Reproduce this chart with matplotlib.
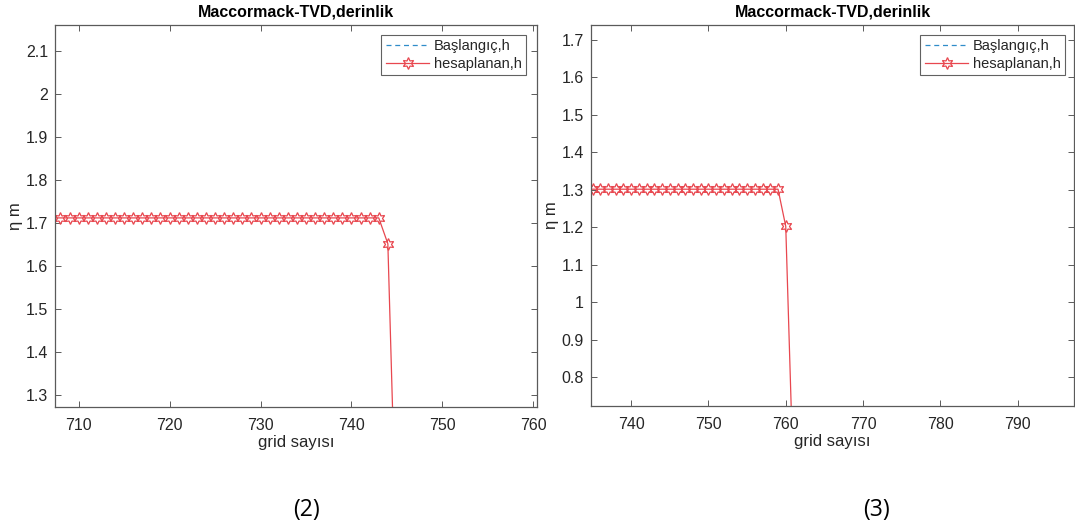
import matplotlib
matplotlib.use("Agg")
import matplotlib.pyplot as plt
import numpy as np

# ---- data ----
x2 = list(range(707, 746))
h2 = [1.712] * 37 + [1.652, 0.91]
x3 = list(range(734, 762))
h3 = [1.302] * 26 + [1.203, 0.52]

title = "Maccormack-TVD,derinlik"
xlabel = "grid sayısı"
ylabel = "η m"
leg_labels = ["Başlangıç,h", "hesaplanan,h"]
panel_labels = ["(2)", "(3)"]

xticks2 = [710, 720, 730, 740, 750, 760]
yticks2 = [1.3, 1.4, 1.5, 1.6, 1.7, 1.8, 1.9, 2.0, 2.1]
ytick_labels2 = ["1.3", "1.4", "1.5", "1.6", "1.7", "1.8", "1.9", "2", "2.1"]
xticks3 = [740, 750, 760, 770, 780, 790]
yticks3 = [0.8, 0.9, 1.0, 1.1, 1.2, 1.3, 1.4, 1.5, 1.6, 1.7]
ytick_labels3 = ["0.8", "0.9", "1", "1.1", "1.2", "1.3", "1.4", "1.5", "1.6", "1.7"]

plt.rcParams['font.family'] = ['Liberation Sans', 'DejaVu Sans']

W, H = 1075, 526
fig = plt.figure(figsize=(W / 100, H / 100), dpi=100)

def fx(px):
    return px / W

def fy(py):
    return 1 - py / H

red = '#e8474f'
blue = '#2f8cc9'
axcol = '#5a5a5a'
txtcol = '#262626'

def make_axes(rect_px, xs, ys, xlim, ylim, xticks, yticks, yticklabels, leg_px):
    l, t, r, b = rect_px
    ax = fig.add_axes([fx(l), fy(b), fx(r - l), fy(t) - fy(b)])
    ax.plot([], [], linestyle=(0, (4, 3)), color=blue, lw=0.9, label=leg_labels[0])
    ax.plot(xs, ys, color=red, lw=0.9, marker=(6, 1, 0), ms=8.5, mfc='none',
            mec=red, mew=0.9, label=leg_labels[1], clip_on=True)
    ax.set_xlim(*xlim)
    ax.set_ylim(*ylim)
    ax.set_xticks(xticks)
    ax.set_yticks(yticks)
    ax.set_yticklabels(yticklabels)
    ax.tick_params(direction='in', length=4, width=0.7, colors=axcol,
                   labelcolor=txtcol, labelsize=11.5, top=True, right=True)
    ax.tick_params(axis='x', pad=8)
    ax.tick_params(axis='y', pad=5)
    for s in ax.spines.values():
        s.set_color(axcol)
        s.set_linewidth(0.9)
    ax.set_title(title, fontsize=11.5, fontweight='bold', color='black', pad=6)
    ax.set_xlabel(xlabel, fontsize=12, color=txtcol, labelpad=2)
    ax.set_ylabel(ylabel, fontsize=12, color=txtcol, labelpad=2)
    ll, lt, lr, lb = leg_px
    leg = ax.legend(loc='upper right',
                    bbox_to_anchor=(fx(lr), fy(lt)), bbox_transform=fig.transFigure,
                    fontsize=10.5, frameon=True, fancybox=False, borderaxespad=0,
                    handlelength=3.0, handletextpad=0.3, borderpad=0.3,
                    labelspacing=0.25)
    leg.get_frame().set_edgecolor('#3a3a3a')
    leg.get_frame().set_linewidth(0.8)
    for t_ in leg.get_texts():
        t_.set_color(txtcol)
    return ax

ax1 = make_axes((55, 25, 537, 406.5), x2, h2, (707.4, 760.4), (1.274, 2.16),
                xticks2, yticks2, ytick_labels2, (388, 35, 526, 79))
ax2 = make_axes((591, 25, 1074, 405.5), x3, h3, (734.8, 797.3), (0.725, 1.74),
                xticks3, yticks3, ytick_labels3, (927, 35, 1065, 79))

fig.text(fx(307), fy(510), panel_labels[0], fontsize=16.5, family=['Open Sans', 'DejaVu Sans'],
         ha='center', va='center', color='black')
fig.text(fx(876), fy(510), panel_labels[1], fontsize=16.5, family=['Open Sans', 'DejaVu Sans'],
         ha='center', va='center', color='black')

fig.savefig("out.png", dpi=100)
